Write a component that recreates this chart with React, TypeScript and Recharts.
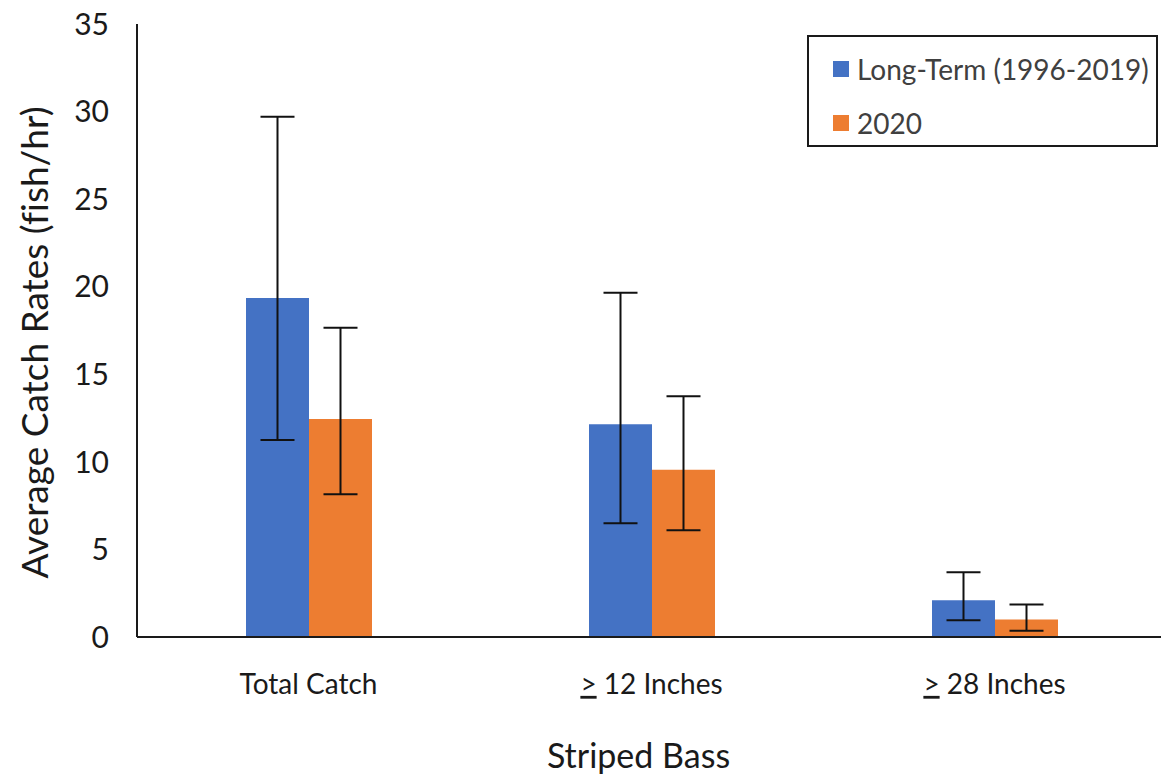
import React from 'react';
import { BarChart, Bar, XAxis, YAxis, ErrorBar, Legend } from 'recharts';

const categories = ['Total Catch', '≥ 12 Inches', '≥ 28 Inches'];
const longTermValues = [19.35, 12.15, 2.1];
const longTermErrLow = [8.1, 5.65, 1.15];
const longTermErrHigh = [10.35, 7.5, 1.6];
const y2020Values = [12.45, 9.55, 1.0];
const y2020ErrLow = [4.3, 3.45, 0.65];
const y2020ErrHigh = [5.2, 4.2, 0.85];
const yTicks = [0, 5, 10, 15, 20, 25, 30, 35];
const seriesNames = ['Long-Term (1996-2019)', '2020'];
const seriesColors = ['#4472C4', '#ED7D31'];

const data = categories.map((c, i) => ({
  category: c,
  longTerm: longTermValues[i],
  longTermErr: [longTermErrLow[i], longTermErrHigh[i]],
  y2020: y2020Values[i],
  y2020Err: [y2020ErrLow[i], y2020ErrHigh[i]],
}));

const FONT = 'Lato, "Open Sans", sans-serif';

const XTick = (props: any) => {
  const { x, y, payload } = props;
  const v: string = payload.value;
  const ge = v.startsWith('≥');
  const rest = ge ? v.slice(1) : v;
  return (
    <text x={x} y={y + 35} dy="0.71em" textAnchor="middle" fill="#1a1a1a" fontSize={28} fontFamily={FONT}>
      {ge ? <tspan textDecoration="underline">{'>'}</tspan> : null}
      <tspan>{rest}</tspan>
    </text>
  );
};

const renderLegend = () => (
  <div
    style={{
      boxSizing: 'border-box',
      width: 351,
      height: 112,
      border: '2px solid #1a1a1a',
      background: '#fff',
      fontFamily: FONT,
      fontSize: 28,
      color: '#404040',
      paddingLeft: 24,
      paddingTop: 8,
    }}
  >
    {seriesNames.map((n, i) => (
      <div key={n} style={{ display: 'flex', alignItems: 'center', height: 48, marginBottom: i === 0 ? 6 : 0 }}>
        <span style={{ display: 'inline-block', width: 16, height: 16, background: seriesColors[i], marginRight: 8 }} />
        <span>{n}</span>
      </div>
    ))}
  </div>
);

export default function App() {
  return (
    <div style={{ position: 'absolute', left: 0, top: 0, width: 1161, height: 777, overflow: 'hidden', background: '#fff' }}>
      <BarChart
        width={1166}
        height={777}
        data={data}
        margin={{ top: 24, right: 0, bottom: 0, left: 0 }}
        barGap={0}
      >
        <XAxis
          dataKey="category"
          height={140}
          tickLine={false}
          tickSize={0}
          axisLine={{ stroke: '#1a1a1a', strokeWidth: 2 }}
          tick={<XTick />}
          interval={0}
          label={{
            content: ({ viewBox }: any) => (
              <text
                x={viewBox.x + viewBox.width / 2 - 13}
                y={viewBox.y + viewBox.height - 9}
                textAnchor="middle"
                fill="#1a1a1a"
                fontSize={34}
                fontFamily={FONT}
              >
                Striped Bass
              </text>
            ),
          }}
        />
        <YAxis
          width={137}
          domain={[0, 35]}
          ticks={yTicks}
          tickLine={false}
          tickSize={0}
          tickMargin={28}
          axisLine={{ stroke: '#1a1a1a', strokeWidth: 2 }}
          tick={{ fill: '#1a1a1a', fontSize: 30, fontFamily: FONT }}
          label={{
            content: ({ viewBox }: any) => {
              const cx = 33;
              const cy = viewBox.y + viewBox.height / 2 + 12;
              return (
                <text
                  x={cx}
                  y={cy}
                  transform={`rotate(-90 ${cx} ${cy})`}
                  textAnchor="middle"
                  dominantBaseline="central"
                  fill="#1a1a1a"
                  fontSize={37}
                  fontFamily={FONT}
                  style={{ fontVariantLigatures: 'none' }}
                >
                  Average Catch Rates (fish/hr)
                </text>
              );
            },
          }}
        />
        <Legend
          layout="vertical"
          align="center"
          verticalAlign="middle"
          content={renderLegend}
          wrapperStyle={{ top: 35, left: 807, width: 351, height: 112 }}
        />
        <Bar dataKey="longTerm" name={seriesNames[0]} fill={seriesColors[0]} barSize={63} isAnimationActive={false}>
          <ErrorBar dataKey="longTermErr" width={17} stroke="#111" strokeWidth={2} />
        </Bar>
        <Bar dataKey="y2020" name={seriesNames[1]} fill={seriesColors[1]} barSize={63} isAnimationActive={false}>
          <ErrorBar dataKey="y2020Err" width={17} stroke="#111" strokeWidth={2} />
        </Bar>
      </BarChart>
    </div>
  );
}
